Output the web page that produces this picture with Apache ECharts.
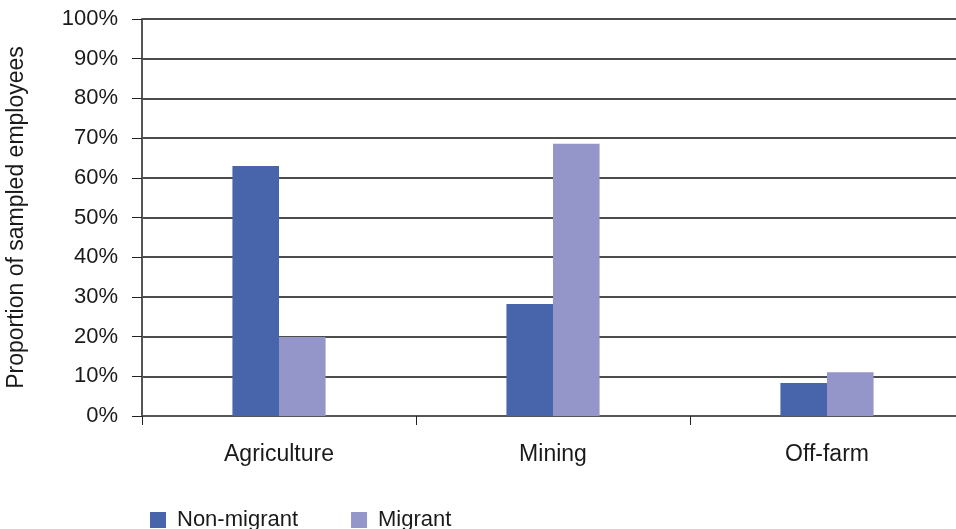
<!DOCTYPE html>
<html><head><meta charset="utf-8">
<script src="https://cdn.jsdelivr.net/npm/echarts@6/dist/echarts.min.js"></script>
<style>html,body{margin:0;padding:0;background:#fff}#c{width:956px;height:529px}</style>
</head><body><div id="c"></div>
<script>
const categories = ['Agriculture', 'Mining', 'Off-farm'];
const nonMigrant = [63.0, 28.2, 8.3];
const migrant = [19.9, 68.6, 11.0];
const yTicks = [0, 10, 20, 30, 40, 50, 60, 70, 80, 90, 100];
const seriesNames = ['Non-migrant', 'Migrant'];

const FONT = 'Liberation Sans';
const chart = echarts.init(document.getElementById('c'), null, {renderer: 'canvas'});
chart.setOption({
  animation: false,
  textStyle: {fontFamily: FONT},
  grid: {left: 142, right: -8, top: 19, bottom: 113, containLabel: false, outerBoundsMode: 'none'},
  legend: {
    data: seriesNames, left: 145, top: 504, itemWidth: 16, itemHeight: 16, itemGap: 53,
    icon: 'rect', textStyle: {fontFamily: FONT, fontSize: 22, color: '#1a1a1a', padding: [0,0,0,6]}
  },
  xAxis: {
    type: 'category', data: categories,
    axisLine: {lineStyle: {color: '#555', width: 2}},
    axisTick: {show: true, length: 9, lineStyle: {color: '#222', width: 1}},
    axisLabel: {fontSize: 23, color: '#1a1a1a', margin: 27, fontFamily: FONT}
  },
  yAxis: {
    type: 'value', min: yTicks[0], max: yTicks[yTicks.length-1], interval: 10,
    name: 'Proportion of sampled employees', nameLocation: 'middle', nameGap: 114,
    nameTextStyle: {fontSize: 23, color: '#1a1a1a', fontFamily: FONT},
    axisLine: {show: true, lineStyle: {color: '#555', width: 2}},
    axisTick: {show: true, length: 10, lineStyle: {color: '#222'}},
    axisLabel: {fontSize: 22, color: '#1a1a1a', margin: 24, formatter: v => v + '%', fontFamily: FONT},
    splitLine: {show: true, lineStyle: {color: '#111', width: 1.5}}
  },
  series: [
    {name: seriesNames[0], type: 'bar', data: nonMigrant, barGap: '0%', barCategoryGap: '66%', itemStyle: {color: '#4864AB'}},
    {name: seriesNames[1], type: 'bar', data: migrant, itemStyle: {color: '#9495C9'}}
  ]
});
</script></body></html>
